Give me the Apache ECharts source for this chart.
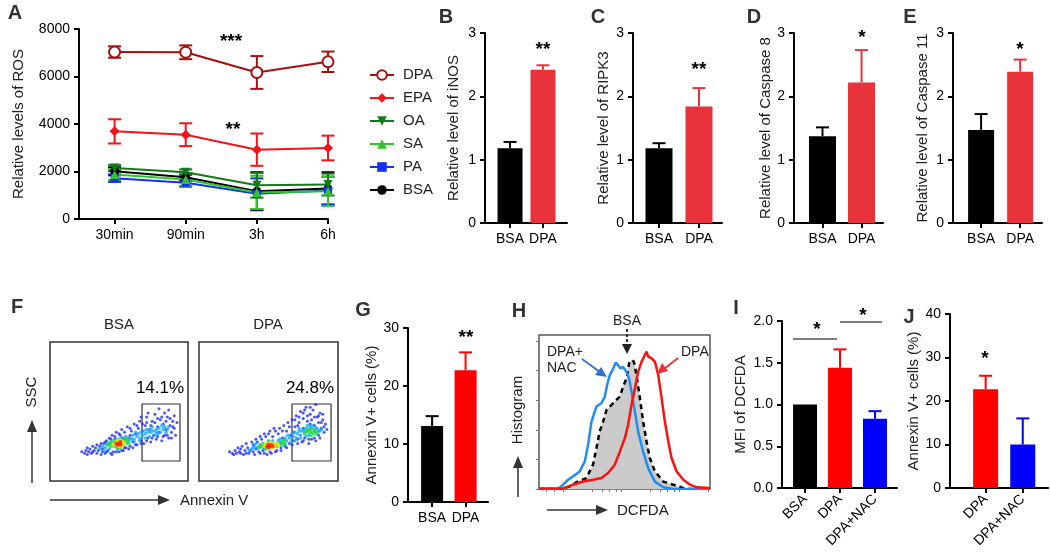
<!DOCTYPE html>
<html>
<head>
<meta charset="utf-8">
<script src="https://cdn.jsdelivr.net/npm/echarts@6/dist/echarts.min.js"></script>
<style>
html, body { margin: 0; padding: 0; background: #fff; }
#main { width: 1050px; height: 559px; }
</style>
</head>
<body>
<div id="main"></div>
<script>
const FONT = 'Liberation Sans, Arial, Helvetica, sans-serif'

// ---- A: ROS time course
const timeLabels = ['30min', '90min', '3h', '6h']
const rosDPA = [7030, 7020, 6170, 6620]
const rosDPAErr = [240, 290, 690, 430]
const rosEPA = [3690, 3550, 2920, 2990]
const rosEPAErr = [510, 480, 680, 520]
const rosOA = [2150, 1970, 1420, 1450]
const rosOAErr = [130, 120, 520, 460]
const rosSA = [1870, 1660, 1120, 1170]
const rosSAErr = [230, 260, 700, 620]
const rosPA = [1720, 1530, 1060, 1200]
const rosPAErr = [160, 170, 650, 580]
const rosBSA = [2010, 1760, 1170, 1280]
const rosBSAErr = [170, 150, 800, 690]

// ---- B-E: relative expression
const groups2 = ['BSA', 'DPA']
const inosMean = [1.18, 2.42]
const inosErr = [0.10, 0.07]
const ripk3Mean = [1.18, 1.84]
const ripk3Err = [0.08, 0.29]
const casp8Mean = [1.37, 2.22]
const casp8Err = [0.14, 0.51]
const casp11Mean = [1.47, 2.39]
const casp11Err = [0.25, 0.19]

// ---- F: flow dot plots [annexin, ssc, density level]
const gateBSA = [66.7, 14.4, 94.2, 55.4]
const gateDPA = [66.9, 14.4, 95.0, 55.4]
const dotsBSA = [
  [23, 21, 0], [25, 20, 0], [26, 22, 0], [28, 21, 0], [29, 23, 0], [30, 20, 0], [32, 22, 0], [33, 24, 0],
  [34, 20, 0], [35, 22, 0], [36, 25, 0], [37, 19, 0], [38, 23, 0], [39, 27, 0], [40, 20, 0], [41, 29, 0],
  [42, 22, 0], [43, 31, 0], [44, 20, 0], [45, 33, 0], [46, 21, 0], [47, 30, 0], [48, 35, 0], [50, 21, 0],
  [51, 33, 0], [52, 37, 0], [53, 22, 0], [54, 35, 0], [55, 30, 0], [56, 39, 0], [57, 23, 0], [58, 33, 0],
  [59, 36, 0], [60, 24, 0], [61, 41, 0], [62, 34, 0], [63, 26, 0], [64, 38, 0], [65, 43, 0], [66, 29, 0],
  [67, 36, 0], [68, 27, 0], [69, 40, 0], [70, 46, 0], [71, 31, 0], [72, 37, 0], [73, 28, 0], [74, 43, 0],
  [75, 33, 0], [76, 48, 0], [77, 30, 0], [78, 39, 0], [79, 35, 0], [80, 44, 0], [81, 29, 0], [82, 41, 0],
  [83, 33, 0], [84, 37, 0], [85, 46, 0], [86, 31, 0], [87, 40, 0], [88, 35, 0], [89, 43, 0], [90, 38, 0],
  [86, 51, 0], [79, 52, 0], [71, 49, 0], [66, 46, 0], [91, 33, 0], [60, 28, 0], [57, 31, 0], [54, 24, 0],
  [27, 24, 0], [31, 25, 0], [34, 26, 0], [37, 27, 0], [40, 28, 0], [44, 30, 0], [47, 32, 0], [50, 34, 0],
  [53, 31, 0], [58, 38, 0], [63, 40, 0], [67, 41, 0], [70, 42, 0], [73, 40, 0], [76, 42, 0], [78, 45, 0],
  [81, 46, 0], [84, 43, 0], [87, 45, 0], [89, 39, 0], [88, 31, 0], [85, 33, 0], [82, 32, 0], [78, 32, 0],
  [74, 31, 0], [70, 29, 0], [66, 27, 0], [62, 26, 0], [58, 25, 0], [55, 24, 0], [52, 22, 0], [48, 21, 0],
  [45, 19, 0], [41, 21, 0], [38, 21, 0], [31, 21, 0], [27, 19, 0], [92, 42, 0], [90, 47, 0], [83, 49, 0],
  [36, 23, 1], [38, 25, 1], [40, 24, 1], [41, 26, 1], [43, 23, 1], [44, 28, 1], [46, 25, 1], [52, 31, 1],
  [54, 29, 1], [56, 27, 1], [57, 29, 1], [59, 30, 1], [61, 30, 1], [63, 32, 1], [65, 31, 1], [67, 33, 1],
  [69, 34, 1], [71, 35, 1], [72, 32, 1], [73, 35, 1], [75, 36, 1], [76, 33, 1], [77, 37, 1], [79, 38, 1],
  [80, 35, 1], [82, 37, 1], [84, 35, 1], [74, 39, 1], [70, 37, 1], [62, 35, 1],
  [39, 22, 1], [42, 27, 1], [48, 30, 1], [49, 23, 1], [55, 32, 1], [58, 31, 1], [60, 33, 1], [64, 34, 1],
  [66, 35, 1], [68, 36, 1], [78, 34, 1], [81, 40, 1], [83, 39, 1], [85, 37, 1], [86, 39, 1], [77, 35, 1],
  [73, 37, 1], [69, 31, 1], [65, 29, 1], [61, 28, 1],
  [42, 26, 2], [44, 25, 2], [45, 27, 2], [47, 28, 2], [48, 25, 2], [50, 30, 2], [52, 28, 2], [53, 26, 2],
  [55, 28, 2], [51, 24, 2], [46, 29, 2], [56, 30, 2], [43, 27, 2], [49, 24, 2], [54, 30, 2], [57, 27, 2],
  [46, 26, 3], [47, 27, 3], [49, 29, 3], [53, 28, 3], [52, 25, 3], [50, 25, 3], [48, 28, 3], [51, 29, 3],
  [54, 27, 3],
  [48, 27, 4], [49, 26, 4], [50, 27, 4], [51, 28, 4], [51, 26, 4]
]
const dotsDPA = [
  [22, 21, 0], [24, 20, 0], [26, 22, 0], [27, 20, 0], [29, 21, 0], [30, 23, 0], [32, 19, 0], [33, 22, 0],
  [35, 24, 0], [36, 20, 0], [37, 22, 0], [39, 26, 0], [40, 19, 0], [41, 23, 0], [42, 28, 0], [44, 20, 0],
  [45, 30, 0], [46, 22, 0], [48, 32, 0], [49, 19, 0], [50, 34, 0], [52, 20, 0], [53, 32, 0], [55, 36, 0],
  [56, 22, 0], [57, 34, 0], [58, 38, 0], [59, 24, 0], [60, 31, 0], [61, 40, 0], [62, 25, 0], [63, 36, 0],
  [64, 42, 0], [65, 27, 0], [66, 33, 0], [67, 44, 0], [68, 29, 0], [69, 39, 0], [70, 47, 0], [71, 30, 0],
  [72, 42, 0], [73, 50, 0], [74, 28, 0], [75, 45, 0], [76, 31, 0], [77, 53, 0], [78, 43, 0], [79, 27, 0],
  [80, 48, 0], [81, 30, 0], [82, 51, 0], [83, 40, 0], [84, 29, 0], [85, 46, 0], [86, 33, 0], [87, 49, 0],
  [88, 38, 0], [89, 44, 0], [90, 35, 0], [91, 41, 0], [84, 55, 0], [75, 38, 0], [68, 35, 0], [58, 27, 0],
  [47, 24, 0], [92, 37, 0], [86, 42, 0], [80, 41, 0],
  [28, 24, 0], [31, 25, 0], [34, 27, 0], [38, 28, 0], [41, 30, 0], [44, 32, 0], [47, 34, 0], [51, 36, 0],
  [54, 38, 0], [60, 36, 0], [65, 39, 0], [69, 44, 0], [72, 46, 0], [75, 49, 0], [78, 47, 0], [81, 44, 0],
  [83, 46, 0], [86, 47, 0], [88, 42, 0], [90, 39, 0], [87, 31, 0], [83, 31, 0], [79, 30, 0], [75, 29, 0],
  [71, 27, 0], [67, 26, 0], [63, 24, 0], [59, 22, 0], [55, 21, 0], [51, 21, 0], [47, 20, 0], [43, 21, 0],
  [39, 21, 0], [34, 20, 0], [30, 20, 0], [25, 19, 0], [89, 48, 0], [76, 51, 0], [80, 53, 0], [71, 40, 0],
  [36, 22, 1], [38, 23, 1], [40, 25, 1], [42, 24, 1], [44, 26, 1], [55, 27, 1], [57, 29, 1], [59, 28, 1],
  [61, 30, 1], [63, 29, 1], [65, 31, 1], [66, 28, 1], [68, 32, 1], [70, 31, 1], [71, 34, 1], [73, 33, 1],
  [74, 36, 1], [76, 35, 1], [77, 38, 1], [79, 33, 1], [81, 38, 1], [83, 36, 1], [85, 38, 1], [87, 36, 1],
  [78, 40, 1], [72, 38, 1], [64, 33, 1],
  [39, 24, 1], [41, 27, 1], [46, 24, 1], [50, 29, 1], [53, 29, 1], [58, 30, 1], [62, 31, 1], [67, 34, 1],
  [69, 35, 1], [72, 36, 1], [75, 37, 1], [80, 39, 1], [82, 40, 1], [84, 38, 1], [86, 36, 1], [88, 37, 1],
  [77, 32, 1], [73, 31, 1], [69, 29, 1], [61, 26, 1],
  [43, 24, 2], [45, 25, 2], [46, 27, 2], [48, 23, 2], [54, 26, 2], [56, 25, 2], [58, 27, 2], [60, 28, 2],
  [62, 27, 2], [76, 34, 2], [78, 36, 2], [80, 35, 2], [82, 35, 2], [79, 37, 2], [81, 33, 2], [84, 34, 2],
  [44, 25, 2], [50, 28, 2], [59, 26, 2], [61, 29, 2], [77, 36, 2], [83, 37, 2], [85, 35, 2], [80, 37, 2],
  [47, 25, 3], [49, 27, 3], [53, 24, 3], [55, 26, 3], [57, 26, 3], [51, 27, 3], [48, 26, 3], [52, 24, 3],
  [54, 27, 3], [56, 27, 3],
  [49, 25, 4], [50, 24, 4], [51, 25, 4], [52, 26, 4], [53, 25, 4], [50, 26, 4]
]

// ---- G: annexin V+ cells
const annexinMean = [13.1, 22.7]
const annexinErr = [1.7, 3.1]

// ---- H: DCFDA histograms [fluorescence %, count %]
const histBSA = [[0, 0], [13.1, 0], [18.0, 1.7], [22.9, 5.0], [27.7, 7.1], [31.6, 15.8], [33.6, 26.6], [35.5, 37.4],
  [37.5, 43.8], [39.5, 51.4], [42.4, 54.6], [45.3, 57.9], [47.3, 60.0], [49.2, 66.5], [51.2, 71.9], [52.7, 81.6],
  [54.1, 83.8], [55.5, 82.7], [57.0, 74.1], [59.0, 59.0], [60.9, 43.8], [62.9, 30.9], [64.8, 20.1], [67.8, 11.4],
  [72.7, 4.8], [78.5, 2.8], [84.4, 0.6], [88.3, 0], [100, 0]]
const histNAC = [[0, 0], [11.1, 0], [14.1, 2.8], [17.0, 6.0], [19.9, 8.2], [23.8, 11.4], [26.8, 17.9], [28.7, 28.7],
  [30.7, 43.8], [33.6, 53.6], [36.5, 55.7], [38.5, 60.0], [39.8, 67.4], [41.4, 73.9], [43.4, 78.2], [44.9, 82.1],
  [46.3, 80.3], [47.7, 78.2], [49.2, 79.3], [51.2, 76.0], [52.7, 71.7], [54.1, 63.1], [56.1, 50.1], [58.0, 37.1],
  [60.9, 24.2], [63.9, 13.4], [67.8, 4.8], [72.7, 1.1], [78.5, 0], [100, 0]]
const histDPA = [[0, 0.4], [14.1, 0.4], [19.9, 2.8], [25.8, 4.9], [31.6, 6.0], [36.5, 7.1], [40.4, 10.4], [44.3, 15.8],
  [47.3, 24.4], [50.2, 33.0], [52.1, 41.7], [54.1, 54.6], [56.1, 65.4], [58.0, 76.2], [60.0, 82.7], [61.9, 87.0],
  [62.9, 89.2], [63.9, 85.9], [65.8, 84.9], [67.8, 82.7], [69.7, 74.1], [71.7, 59.0], [73.6, 43.8], [75.6, 30.9],
  [77.5, 20.1], [80.5, 11.4], [84.4, 6.0], [88.3, 2.8], [92.2, 1.1], [100, 0.6]]

// ---- I: MFI of DCFDA
const groups3 = ['BSA', 'DPA', 'DPA+NAC']
const mfiMean = [1.0, 1.44, 0.83]
const mfiErr = [0, 0.22, 0.09]

// ---- J: annexin V+ cells with NAC
const groupsJ = ['DPA', 'DPA+NAC']
const annexinNacMean = [22.7, 10.0]
const annexinNacErr = [3.1, 6.0]

const dotColors = ['#1f2bff', '#14a8ff', '#27d84a', '#f5e20c', '#ff2200']
const dotSizes = [3, 3.5, 4, 4, 4]

let grids = []
let xAxes = []
let yAxes = []
let series = []

function errorBars (gi, means, errs, colors, capHalf, both) {
  return {
    type: 'custom',
    xAxisIndex: gi,
    yAxisIndex: gi,
    silent: true,
    z: 4,
    data: means.map(function (m, i) { return [i, m, errs[i]] }),
    renderItem: function (params, api) {
      let x = api.value(0)
      let m = api.value(1)
      let e = api.value(2)
      let color = colors[params.dataIndex]
      if (!e) return { type: 'group', children: [] }
      let top = api.coord([x, m + e])
      let bot = api.coord([x, both ? m - e : m])
      let style = { stroke: color, lineWidth: 2 }
      let children = [
        { type: 'line', shape: { x1: top[0], y1: top[1], x2: bot[0], y2: bot[1] }, style: style },
        { type: 'line', shape: { x1: top[0] - capHalf, y1: top[1], x2: top[0] + capHalf, y2: top[1] }, style: style }
      ]
      if (both) {
        children.push({ type: 'line', shape: { x1: bot[0] - capHalf, y1: bot[1], x2: bot[0] + capHalf, y2: bot[1] }, style: style })
      }
      return { type: 'group', children: children }
    }
  }
}

function yAxisCfg (gi, max, interval, name, nameGap, fmt) {
  return {
    type: 'value',
    gridIndex: gi,
    min: 0,
    max: max,
    interval: interval,
    name: name,
    nameLocation: 'middle',
    nameRotate: 90,
    nameGap: nameGap,
    nameTextStyle: { color: '#222', fontSize: 15, fontFamily: FONT },
    axisLine: { show: true, onZero: false, lineStyle: { color: '#000', width: 2 } },
    axisTick: { show: true, length: 5, lineStyle: { color: '#000', width: 2 } },
    axisLabel: { color: '#000', fontSize: 14, fontFamily: FONT, margin: 9, formatter: fmt || function (v) { return String(v) } },
    splitLine: { show: false }
  }
}

function xAxisCfg (gi, min, max, cats, rotate) {
  let ticks = cats.map(function (c, i) { return i })
  return {
    type: 'value',
    gridIndex: gi,
    min: min,
    max: max,
    axisLine: { show: true, onZero: false, lineStyle: { color: '#000', width: 2 } },
    axisTick: { show: true, length: 5, customValues: ticks, lineStyle: { color: '#000', width: 2 } },
    axisLabel: {
      customValues: ticks,
      formatter: function (v) { return cats[Math.round(v)] },
      color: '#000',
      fontSize: 14,
      fontFamily: FONT,
      margin: 9,
      rotate: rotate || 0
    },
    splitLine: { show: false }
  }
}

function addBarPanel (cfg) {
  let gi = grids.length
  grids.push(cfg.grid)
  xAxes.push(xAxisCfg(gi, cfg.xMin, cfg.xMax, cfg.cats, cfg.rotate))
  yAxes.push(yAxisCfg(gi, cfg.yMax, cfg.yInterval, cfg.yName, cfg.nameGap, cfg.fmt))
  series.push({
    type: 'bar',
    xAxisIndex: gi,
    yAxisIndex: gi,
    barWidth: cfg.barWidth,
    silent: true,
    data: cfg.means.map(function (m, i) { return { value: [i, m], itemStyle: { color: cfg.colors[i] } } })
  })
  series.push(errorBars(gi, cfg.means, cfg.errs, cfg.colors, 6.5, false))
}

// A
grids.push({ left: 79, top: 29, width: 249, height: 190 })
xAxes.push(xAxisCfg(0, -0.5, 3, timeLabels))
yAxes.push(yAxisCfg(0, 8000, 2000, 'Relative levels of ROS', 53))
const rosSets = [
  { name: 'DPA', v: rosDPA, e: rosDPAErr, color: '#a8100f', symbol: 'emptyCircle', size: 11, rot: 0 },
  { name: 'EPA', v: rosEPA, e: rosEPAErr, color: '#f5121b', symbol: 'diamond', size: 10, rot: 0 },
  { name: 'OA', v: rosOA, e: rosOAErr, color: '#117a17', symbol: 'triangle', size: 9, rot: 180 },
  { name: 'SA', v: rosSA, e: rosSAErr, color: '#2fc52f', symbol: 'triangle', size: 9, rot: 0 },
  { name: 'PA', v: rosPA, e: rosPAErr, color: '#1430f2', symbol: 'rect', size: 8, rot: 0 },
  { name: 'BSA', v: rosBSA, e: rosBSAErr, color: '#000000', symbol: 'circle', size: 9, rot: 0 }
]
rosSets.slice().reverse().forEach(function (s) {
  series.push(errorBars(0, s.v, s.e, s.v.map(function () { return s.color }), 6.5, true))
  series.push({
    type: 'line',
    name: s.name,
    xAxisIndex: 0,
    yAxisIndex: 0,
    data: s.v.map(function (v, i) { return [i, v] }),
    symbol: s.symbol,
    symbolSize: s.size,
    symbolRotate: s.rot,
    z: 5,
    lineStyle: { color: s.color, width: 2 },
    itemStyle: { color: s.color, borderWidth: 2 }
  })
})

// B-E
addBarPanel({ grid: { left: 485, top: 33, width: 82, height: 190 }, xMin: -0.76, xMax: 1.73, cats: groups2,
  yMax: 3, yInterval: 1, yName: 'Relative level of iNOS', nameGap: 24, barWidth: 25,
  means: inosMean, errs: inosErr, colors: ['#000', '#e8333a'] })
addBarPanel({ grid: { left: 633, top: 33, width: 89, height: 190 }, xMin: -0.65, xMax: 1.575, cats: groups2,
  yMax: 3, yInterval: 1, yName: 'Relative level of RIPK3', nameGap: 22, barWidth: 27,
  means: ripk3Mean, errs: ripk3Err, colors: ['#000', '#e8333a'] })
addBarPanel({ grid: { left: 794, top: 33, width: 89, height: 190 }, xMin: -0.73, xMax: 1.55, cats: groups2,
  yMax: 3, yInterval: 1, yName: 'Relative level of Caspase 8', nameGap: 21, barWidth: 27,
  means: casp8Mean, errs: casp8Err, colors: ['#000', '#e8333a'] })
addBarPanel({ grid: { left: 953, top: 33, width: 89, height: 190 }, xMin: -0.72, xMax: 1.56, cats: groups2,
  yMax: 3, yInterval: 1, yName: 'Relative level of Caspase 11', nameGap: 23, barWidth: 26,
  means: casp11Mean, errs: casp11Err, colors: ['#000', '#e8333a'] })

// F dot plots
function addDotPlot (grid, dots, gate) {
  let gi = grids.length
  grids.push(Object.assign({ show: true, borderColor: '#333', borderWidth: 1.5 }, grid))
  xAxes.push({ type: 'value', gridIndex: gi, min: 0, max: 100, show: false })
  yAxes.push({ type: 'value', gridIndex: gi, min: 0, max: 100, show: false })
  series.push({
    type: 'scatter',
    xAxisIndex: gi,
    yAxisIndex: gi,
    silent: true,
    data: dots,
    symbolSize: function (v) { return dotSizes[v[2]] },
    itemStyle: { color: function (p) { return dotColors[p.value[2]] } },
    markArea: {
      silent: true,
      itemStyle: { color: 'rgba(0,0,0,0)', borderColor: '#333', borderWidth: 1.2 },
      data: [[{ coord: [gate[0], gate[1]] }, { coord: [gate[2], gate[3]] }]]
    }
  })
}
addDotPlot({ left: 50, top: 342, width: 138, height: 139 }, dotsBSA, gateBSA)
addDotPlot({ left: 199, top: 342, width: 139, height: 139 }, dotsDPA, gateDPA)

// G
addBarPanel({ grid: { left: 408, top: 328, width: 80, height: 174 }, xMin: -0.72, xMax: 1.67, cats: groups2,
  yMax: 30, yInterval: 10, yName: 'Annexin V+ cells (%)', nameGap: 28, barWidth: 22,
  means: annexinMean, errs: annexinErr, colors: ['#000', '#ff0000'] })

// H histogram
let hi = grids.length
grids.push({ left: 539, top: 335, width: 171, height: 154, show: true, borderColor: '#555', borderWidth: 1.5 })
xAxes.push({
  type: 'value', gridIndex: hi, min: 0, max: 100,
  axisLine: { show: false },
  axisTick: { show: true, length: 3, customValues: [4, 9, 14, 31, 37, 41, 45, 48, 65, 71, 75, 79, 82, 99], lineStyle: { color: '#777', width: 1 } },
  axisLabel: { show: false },
  splitLine: { show: false }
})
yAxes.push({
  type: 'value', gridIndex: hi, min: 0, max: 100,
  axisLine: { show: false },
  axisTick: { show: true, length: 3, customValues: [0, 19.2, 38.4, 57.6, 76.8, 96], lineStyle: { color: '#777', width: 1 } },
  axisLabel: { show: false },
  splitLine: { show: false }
})
series.push({
  type: 'line', xAxisIndex: hi, yAxisIndex: hi, data: histBSA, symbol: 'none', silent: true, z: 2,
  lineStyle: { color: '#000', width: 2.5, type: [5, 4] },
  areaStyle: { color: '#cbcbcb', opacity: 1 }
})
series.push({
  type: 'line', xAxisIndex: hi, yAxisIndex: hi, data: histNAC, symbol: 'none', silent: true, z: 3,
  lineStyle: { color: '#1f8ef0', width: 2.5 }
})
series.push({
  type: 'line', xAxisIndex: hi, yAxisIndex: hi, data: histDPA, symbol: 'none', silent: true, z: 3,
  lineStyle: { color: '#ff1010', width: 2.5 }
})

// I
addBarPanel({ grid: { left: 782, top: 321, width: 115, height: 167 }, xMin: -0.66, xMax: 2.63, cats: groups3,
  yMax: 2, yInterval: 0.5, yName: 'MFI of DCFDA', nameGap: 34, barWidth: 24, rotate: 45,
  fmt: function (v) { return v.toFixed(1) },
  means: mfiMean, errs: mfiErr, colors: ['#000', '#ff0000', '#0000ff'] })

// J
addBarPanel({ grid: { left: 950, top: 314, width: 98, height: 174 }, xMin: -0.96, xMax: 1.68, cats: groupsJ,
  yMax: 40, yInterval: 10, yName: 'Annexin V+ cells (%)', nameGap: 22, barWidth: 25, rotate: 45,
  means: annexinNacMean, errs: annexinNacErr, colors: ['#ff0000', '#0000ff'] })

// annotation helpers
function txt (x, y, s, size, opt) {
  opt = opt || {}
  return {
    type: 'text', x: x, y: y, rotation: opt.rot || 0, silent: true, z: 10,
    style: {
      text: s, fill: opt.color || '#000', fontSize: size, fontFamily: FONT,
      fontWeight: opt.bold ? 'bold' : 'normal', align: opt.align || 'center', verticalAlign: 'middle'
    }
  }
}
function seg (x1, y1, x2, y2, color, width, dash) {
  return {
    type: 'line', silent: true, z: 10,
    shape: { x1: x1, y1: y1, x2: x2, y2: y2 },
    style: { stroke: color, lineWidth: width, lineDash: dash || null }
  }
}
function head (pts, color) {
  return { type: 'polygon', silent: true, z: 10, shape: { points: pts }, style: { fill: color } }
}

const graphics = [
  txt(15, 13, 'A', 20, { bold: true, color: '#333' }),
  txt(446, 17, 'B', 20, { bold: true, color: '#333' }),
  txt(598, 17, 'C', 20, { bold: true, color: '#333' }),
  txt(754, 17, 'D', 20, { bold: true, color: '#333' }),
  txt(910, 17, 'E', 20, { bold: true, color: '#333' }),
  txt(17, 307, 'F', 20, { bold: true, color: '#333' }),
  txt(363, 310, 'G', 20, { bold: true, color: '#333' }),
  txt(519, 311, 'H', 20, { bold: true, color: '#333' }),
  txt(736, 308, 'I', 20, { bold: true, color: '#333' }),
  txt(909, 317, 'J', 20, { bold: true, color: '#333' }),
  // significance
  txt(231, 42, '***', 19, { bold: true }),
  txt(233, 130, '**', 19, { bold: true }),
  txt(543, 50, '**', 19, { bold: true }),
  txt(699, 70, '**', 19, { bold: true }),
  txt(862, 38, '*', 19, { bold: true }),
  txt(1020, 50, '*', 19, { bold: true }),
  txt(466, 338, '**', 19, { bold: true }),
  txt(985, 359, '*', 19, { bold: true }),
  seg(793, 339, 837, 339, '#555', 1.5),
  seg(840, 322, 882, 322, '#555', 1.5),
  txt(817, 330, '*', 19, { bold: true }),
  txt(863, 316, '*', 19, { bold: true }),
  // F
  txt(119, 325, 'BSA', 15, { color: '#222' }),
  txt(268, 325, 'DPA', 15, { color: '#222' }),
  txt(160, 388, '14.1%', 17),
  txt(310, 388, '24.8%', 17),
  txt(32, 392, 'SSC', 15, { rot: Math.PI / 2, color: '#222' }),
  seg(32, 483, 32, 430, '#333', 1.5),
  head([[32, 420], [27, 432], [37, 432]], '#333'),
  seg(50, 500, 160, 500, '#333', 1.5),
  head([[170, 500], [158, 495], [158, 505]], '#333'),
  txt(180, 501, 'Annexin V', 15, { align: 'left', color: '#222' }),
  // H
  txt(627, 321, 'BSA', 14, { color: '#222' }),
  seg(627, 329, 627, 345, '#222', 1.8, [3, 2]),
  head([[627, 354], [622, 344], [632, 344]], '#222'),
  txt(547, 352, 'DPA+', 14, { align: 'left', color: '#222' }),
  txt(547, 368, 'NAC', 14, { align: 'left', color: '#222' }),
  seg(582, 359, 600, 372, '#2f6fd6', 1.8),
  head([[607, 377], [595, 375], [601, 367]], '#2f6fd6'),
  txt(681, 352, 'DPA', 14, { align: 'left', color: '#222' }),
  seg(678, 358, 664, 369, '#ef3030', 1.8),
  head([[657, 374], [662, 363], [668, 371]], '#ef3030'),
  txt(518, 410, 'Histogram', 15, { rot: Math.PI / 2, color: '#222' }),
  seg(518, 497, 518, 466, '#333', 1.5),
  head([[518, 456], [513, 468], [523, 468]], '#333'),
  seg(547, 510, 598, 510, '#333', 1.5),
  head([[608, 510], [596, 505], [596, 515]], '#333'),
  txt(617, 511, 'DCFDA', 15, { align: 'left', color: '#222' })
]

const chart = echarts.init(document.getElementById('main'), null, { renderer: 'canvas' })
chart.setOption({
  animation: false,
  backgroundColor: '#fff',
  textStyle: { fontFamily: FONT },
  legend: {
    data: ['DPA', 'EPA', 'OA', 'SA', 'PA', 'BSA'],
    orient: 'vertical',
    left: 364,
    top: 62,
    itemWidth: 24,
    itemHeight: 12,
    itemGap: 7,
    selectedMode: false,
    textStyle: { fontSize: 15, color: '#222', fontFamily: FONT, lineHeight: 16, padding: [0, 0, 0, 4] }
  },
  grid: grids,
  xAxis: xAxes,
  yAxis: yAxes,
  series: series,
  graphic: graphics
})
</script>
</body>
</html>
